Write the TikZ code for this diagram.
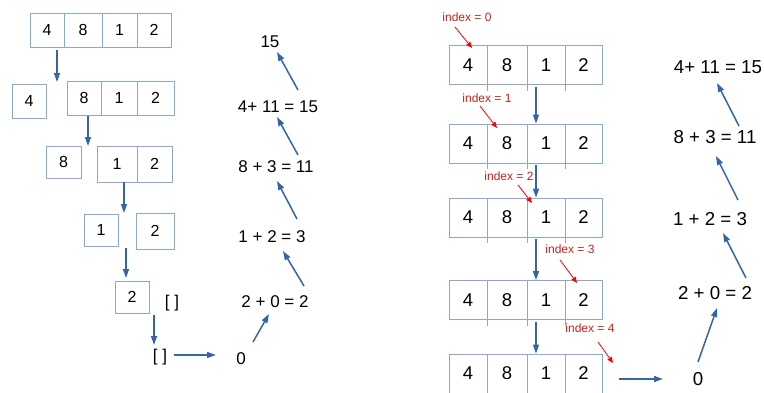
\documentclass[tikz,border=0pt]{standalone}
\usepackage{fontspec}
\setmainfont{Liberation Sans}
\usepackage{tikz}
\usetikzlibrary{arrows.meta}
\definecolor{boxline}{RGB}{140,168,205}
\definecolor{arrowblue}{RGB}{52,101,164}
\definecolor{idxred}{RGB}{201,33,30}
\tikzset{
	arrow/.style={-{Triangle[length=9pt,width=6pt]}, line width=1.5pt, arrowblue},
	redarrow/.style={-{Triangle[length=6pt,width=5pt]}, line width=0.8pt, red}
}

\begin{document}
\begin{tikzpicture}[x=1pt, y=-1pt,
		cell/.style={draw=boxline, line width=0.8pt, inner sep=0pt, minimum height=34pt, font=\fontsize{16}{18}\selectfont},
		rcell/.style={draw=boxline, line width=0.8pt, inner sep=0pt, minimum height=39pt, font=\fontsize{18.5}{20}\selectfont},
		eq/.style={inner sep=0pt, font=\fontsize{17}{20}\selectfont},
		req/.style={inner sep=0pt, font=\fontsize{18.7}{22}\selectfont},
		idx/.style={inner sep=0pt, text=idxred, font=\fontsize{12}{14}\selectfont}
		]
		\useasboundingbox (0,0) rectangle (764,392);
		
		% left: splitting the list
		\foreach \x/\w/\v [count=\i] in {47/34/4, 83/38/8, 119.5/35/1, 154/34/2}
		\node[cell, minimum width=\w pt] (top\i) at (\x,30) {\v};
		
		\node[cell, minimum width=34pt] (split1) at (29,101) {4};
		\foreach \x/\w/\v [count=\i] in {84/34/8, 119/36/1, 155.5/37/2}
		\node[cell, minimum width=\w pt] (rest\i) at (\x,98) {\raisebox{-7pt}{\v}};
		
		\node[cell, minimum width=35pt, minimum height=32pt] (split2) at (63.5,162) {8};
		\foreach \x/\w/\v [count=\i] in {117/40/1, 154.5/35/2}
		\node[cell, minimum width=\w pt, minimum height=36pt] (pair\i) at (\x,164) {\raisebox{-3pt}{\v}};
		
		\node[cell, minimum width=34pt, minimum height=32pt] (one) at (101,230) {\raisebox{-4pt}{1}};
		\node[cell, minimum width=38pt, minimum height=36pt] (two) at (155,231) {\raisebox{-2pt}{2}};
		\node[cell, minimum width=34pt, minimum height=32pt] (last) at (132,297) {\raisebox{-5pt}{2}};
		\node[eq] (empty1) at (172,303) {[ ]};
		\node[eq] (empty2) at (160,357) {[ ]};
		
		\draw[arrow] ([xshift=10pt,yshift=-20pt]top1.center) -- ([xshift=-27pt,yshift=16pt]rest1.center);
		\draw[arrow] ([xshift=4pt,yshift=-18pt]rest1.center) -- ([xshift=24.5pt,yshift=16pt]split2.center);
		\draw[arrow] ([xshift=7pt,yshift=-18pt]pair1.center) -- ([xshift=23pt,yshift=17pt]one.center);
		\draw[arrow] ([xshift=25pt,yshift=-18pt]one.center) -- ([xshift=-6pt,yshift=19pt]last.center);
		\draw[arrow] ([xshift=22pt,yshift=-18pt]last.center) -- ([xshift=-6pt,yshift=12pt]empty2.center);
		
		% left: adding back up
		\node[eq] (sum0) at (241,359) {0};
		\node[eq] (sum1) at (275,302) {2 + 0 = 2};
		\node[eq] (sum2) at (272,237) {1 + 2 = 3};
		\node[eq] (sum3) at (276,167) {8 + 3 = 11};
		\node[eq] (sum4) at (278,107) {4+ 11 = 15};
		\node[eq] (sum5) at (270,42) {15};
		
		\draw[arrow] ([xshift=14pt,yshift=2pt]empty2.center) -- ([xshift=-25pt,yshift=4pt]sum0.center);
		\draw[arrow] ([xshift=12pt,yshift=17pt]sum0.center) -- ([xshift=-6pt,yshift=-12pt]sum1.center);
		\draw[arrow] ([xshift=29pt,yshift=16pt]sum1.center) -- ([xshift=11pt,yshift=-14pt]sum2.center);
		\draw[arrow] ([xshift=25pt,yshift=18pt]sum2.center) -- ([xshift=1pt,yshift=-14pt]sum3.center);
		\draw[arrow] ([xshift=22pt,yshift=12pt]sum3.center) -- ([xshift=-1pt,yshift=-10pt]sum4.center);
		\draw[arrow] ([xshift=20pt,yshift=17pt]sum4.center) -- ([xshift=7pt,yshift=-10pt]sum5.center);
		
		% right: moving the index
		\foreach \y [count=\r] in {65,143.5,217.5,300,373.5} {
			\foreach \x/\w/\v [count=\c] in {468/38/4, 507/40/8, 546/38/1, 583.5/37/2}
			\node[rcell, minimum width=\w pt] (r\r-\c) at (\x,\y) {\v};
		}
		\foreach \r in {1,...,4}
		\foreach \c in {1,2,3}
		\draw[boxline, line width=0.8pt] (r\r-\c.south east) -- ++(0,6);
		
		\node[idx] (idx0) at (467,17) {index = 0};
		\node[idx] (idx1) at (487,98) {index = 1};
		\node[idx] (idx2) at (509,176) {index = 2};
		\node[idx] (idx3) at (570,249) {index = 3};
		\node[idx] (idx4) at (590,328) {index = 4};
		
		\draw[redarrow] ([xshift=-12pt,yshift=-10pt]idx0.center) -- ([xshift=4pt,yshift=17pt]r1-1.center);
		\draw[redarrow] ([xshift=-7pt,yshift=-8pt]idx1.center) -- ([xshift=-10pt,yshift=15.5pt]r2-2.center);
		\draw[redarrow] ([xshift=9pt,yshift=-9pt]idx2.center) -- ([xshift=-14pt,yshift=14.5pt]r3-3.center);
		\draw[redarrow] ([xshift=-10pt,yshift=-11pt]idx3.center) -- ([xshift=-6.5pt,yshift=17pt]r4-4.center);
		\draw[redarrow] ([xshift=8pt,yshift=-14pt]idx4.center) -- ([xshift=29.5pt,yshift=10.5pt]r5-4.center);
		
		\foreach \r/\n in {1/2, 2/3, 3/4, 4/5}
		\draw[arrow] ([xshift=-10pt,yshift=-2pt]r\r-3.south) -- ([xshift=-10pt]r\n-3.north);
		
		% right: adding back up
		\node[req] (res0) at (698,379) {0};
		\node[req] (res1) at (715,293) {2 + 0 = 2};
		\node[req] (res2) at (710,219) {1 + 2 = 3};
		\node[req] (res3) at (715,137) {8 + 3 = 11};
		\node[req] (res4) at (718,67) {4+ 11 = 15};
		
		\draw[arrow] ([xshift=17pt,yshift=-5.5pt]r5-4.east) -- ([xshift=-35pt]res0.center);
		\draw[arrow] ([yshift=17pt]res0.center) -- ([xshift=2pt,yshift=-15pt]res1.center);
		\draw[arrow] ([xshift=31pt,yshift=15pt]res1.center) -- ([xshift=13pt,yshift=-14pt]res2.center);
		\draw[arrow] ([xshift=28pt,yshift=19pt]res2.center) -- ([xshift=1pt,yshift=-19pt]res3.center);
		\draw[arrow] ([xshift=24pt,yshift=11pt]res3.center) -- ([xshift=-1pt,yshift=-16pt]res4.center);
		
	\end{tikzpicture}
\end{document}
